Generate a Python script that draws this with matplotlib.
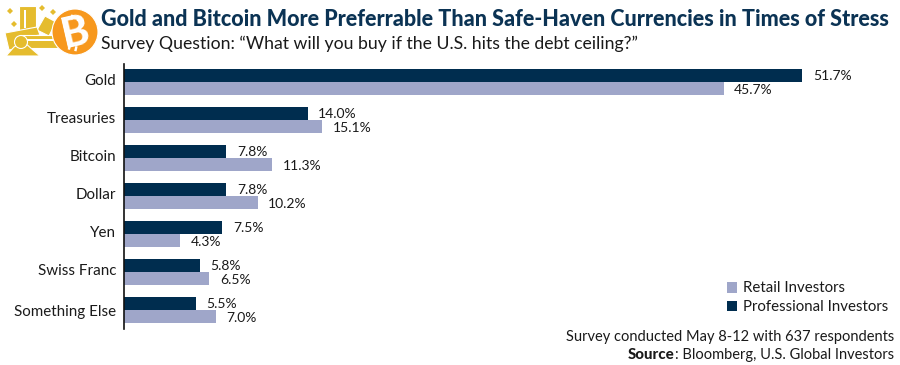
import numpy as np
from matplotlib import pyplot as plt
from matplotlib.patches import Circle, Polygon, Rectangle
from matplotlib.transforms import ScaledTranslation

categories = ['Gold', 'Treasuries', 'Bitcoin', 'Dollar', 'Yen', 'Swiss Franc', 'Something Else']
professional = [51.7, 14.0, 7.8, 7.8, 7.5, 5.8, 5.5]
retail = [45.7, 15.1, 11.3, 10.2, 4.3, 6.5, 7.0]

NAVY = '#002d4f'
PERI = '#9fa6c9'
TXT = '#1a1a1a'
W, H = 900, 365
plt.rcParams['font.family'] = ['Lato', 'DejaVu Sans']

fig = plt.figure(figsize=(W / 100, H / 100), dpi=100)
ax = fig.add_axes([124 / W, 1 - 329 / H, (W - 124) / W, 265 / H])

y = np.arange(len(categories))
h = 0.342
bars_pro = ax.barh(y - h / 2, professional, h, color=NAVY, label='Professional Investors')
bars_ret = ax.barh(y + h / 2, retail, h, color=PERI, label='Retail Investors')
ax.set_xlim(0, (W - 124) / 13.12)
ax.set_ylim(6.5, -0.474)
ax.set_yticks(y)
ax.set_yticklabels(categories, fontsize=10.9, color=TXT)
ax.tick_params(axis='y', length=0, pad=5.5)
ax.xaxis.set_visible(False)
for s in ['top', 'right', 'bottom']:
    ax.spines[s].set_visible(False)
ax.spines['left'].set_linewidth(1.2)
ax.spines['left'].set_color('#111111')

# labels sit a little above the bar centre
shift = ScaledTranslation(0, 2 / 72, fig.dpi_scale_trans)
for lab in ax.get_yticklabels()[:-1]:
    lab.set_transform(lab.get_transform() + shift)

for b, v in zip(bars_pro, professional):
    ax.annotate('%.1f%%' % v, (v, b.get_y() + b.get_height() / 2), xytext=(10.5, -0.5), textcoords='offset pixels',
                va='center', fontsize=10, color=TXT)
for b, v in zip(bars_ret, retail):
    ax.annotate('%.1f%%' % v, (v, b.get_y() + b.get_height() / 2), xytext=(10.5, -1.5), textcoords='offset pixels',
                va='center', fontsize=10, color=TXT)

handles, labels = ax.get_legend_handles_labels()
fig.legend(handles[::-1], labels[::-1], loc='lower right', bbox_to_anchor=(888 / W, 1 - 314 / H), frameon=False,
           fontsize=10.8, handlelength=0.67, handleheight=0.7, handletextpad=0.4, labelspacing=0.3,
           borderpad=0, borderaxespad=0, labelcolor=TXT)

fig.text(101 / W, 1 - 20 / H, 'Gold and Bitcoin More Preferrable Than Safe-Haven Currencies in Times of Stress',
         fontsize=15.5, fontweight='black', color='#0b3354', va='center', ha='left')
fig.text(101 / W, 1 - 44 / H, 'Survey Question: \u201cWhat will you buy if the U.S. hits the debt ceiling?\u201d',
         fontsize=12.7, color=TXT, va='center', ha='left')
fig.text(894 / W, 1 - 337 / H, 'Survey conducted May 8-12 with 637 respondents', fontsize=10.5,
         color=TXT, va='center', ha='right')
src = fig.text(894 / W, 1 - 355 / H, ': Bloomberg, U.S. Global Investors', fontsize=10.5,
               color=TXT, va='center', ha='right')
plt.annotate('Source', xy=(0, 0), xycoords=src, ha='right', va='bottom', fontsize=10.8, fontweight='black', color=TXT,
             annotation_clip=False)

# icon, in pixel coords
icon = fig.add_axes([0, 1 - 60 / H, 105 / W, 60 / H])
icon.set_xlim(0, 105)
icon.set_ylim(60, 0)
icon.axis('off')
GOLD = '#e5bc2e'
kw = dict(fc=GOLD, ec='white', lw=0.8)
icon.add_patch(Polygon([[19, 6], [36, 6], [36, 33], [19, 33]], **kw))
icon.add_patch(Rectangle((24, 10), 2, 18, fc='white', ec='none'))
icon.add_patch(Polygon([[37, 30], [45, 16], [56, 22], [49, 36]], **kw))
icon.add_patch(Polygon([[5, 33], [37, 27], [40, 35], [20, 38], [20, 48], [9, 50]], **kw))
icon.add_patch(Rectangle((20, 35), 38, 13, **kw))
icon.add_patch(Rectangle((24, 39), 30, 1.5, fc='white', ec='none'))
icon.add_patch(Polygon([[6, 56], [14, 47], [24, 42], [33, 50], [40, 56]], **kw))
icon.add_patch(Circle((21, 42), 6.5, **kw))
for px, py in [(10, 11), (14, 24), (42, 8), (53, 12)]:
    icon.add_patch(Polygon([[px - 3, py], [px, py - 3], [px + 3, py], [px, py + 3]], fc=GOLD, ec='none'))
icon.add_patch(Circle((75, 32), 23, fc='#f7981d', ec='white', lw=0.8))
icon.text(76, 33, 'B', fontsize=30, fontweight='black', color='white', ha='center', va='center', rotation=13)
for px, py in [(72.5, 17), (79, 18.5), (70, 47), (76.5, 48.5)]:
    icon.add_patch(Rectangle((px - 1.2, py - 2.5), 2.4, 5, angle=13, fc='white', ec='none'))

fig.savefig('out.png', dpi=100)
